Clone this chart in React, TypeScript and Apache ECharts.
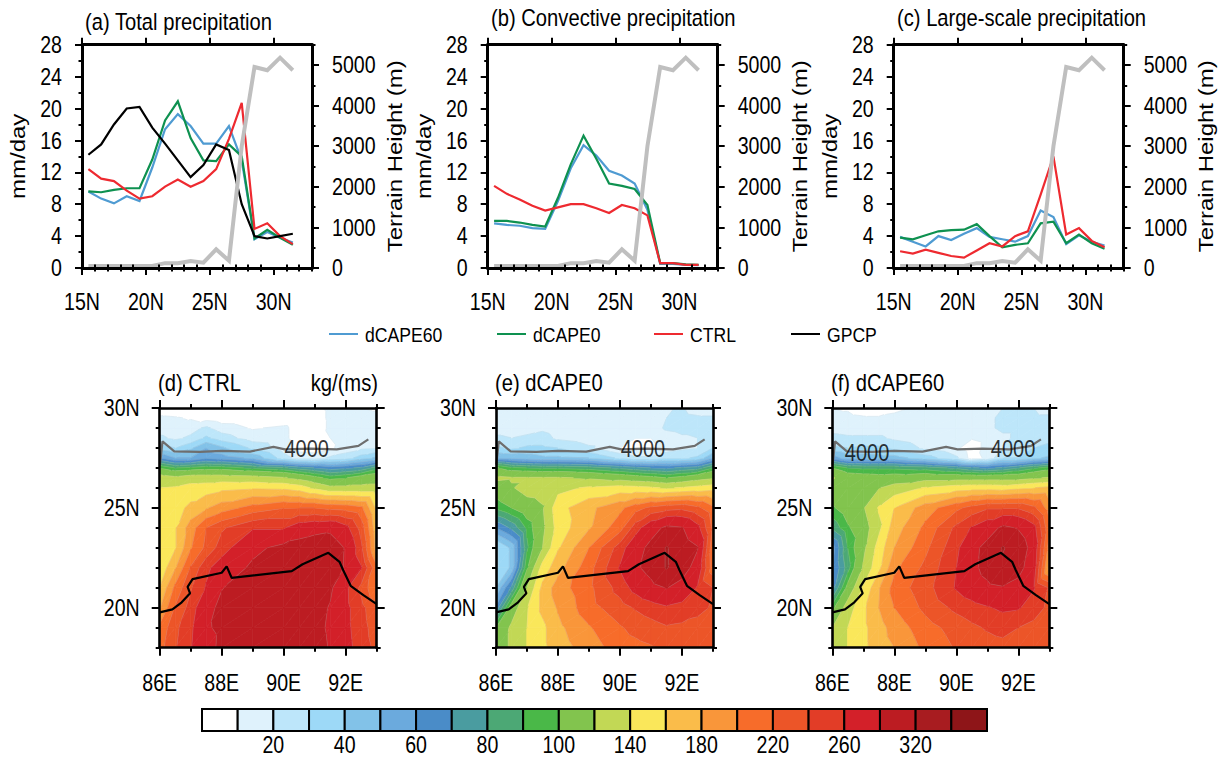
import React, { useEffect, useRef } from "react";
import * as echarts from "echarts";

const FONT = "Liberation Sans";

// ---------- line panels ----------
const latPoints = [15.5, 16.5, 17.5, 18.5, 19.5, 20.5, 21.5, 22.5, 23.5, 24.5, 25.5, 26.5, 27.5, 28.5, 29.5, 30.5, 31.5];
const terrain = [50, 50, 50, 50, 50, 50, 120, 120, 170, 130, 460, 180, 3000, 4950, 4870, 5180, 4870];

const totalBlue = [9.6, 8.7, 8.1, 9.0, 8.4, 12.6, 17.4, 19.3, 17.8, 15.6, 15.6, 17.8, 13.5, 3.6, 4.5, 3.8, 3.2];
const totalGreen = [9.6, 9.5, 9.8, 10.0, 10.0, 13.6, 18.5, 20.9, 16.3, 13.5, 13.4, 15.5, 14.0, 3.7, 4.8, 3.8, 2.9];
const totalRed = [12.4, 11.2, 10.9, 9.7, 8.7, 9.0, 10.2, 11.1, 10.2, 10.9, 12.4, 16.2, 20.7, 4.9, 5.6, 4.0, 3.0];
const totalBlack = [14.2, 15.5, 18.0, 20.0, 20.2, 17.6, 15.6, 13.5, 11.4, 12.9, 15.5, 14.8, 8.0, 4.0, 3.7, 4.0, 4.3];

const convBlue = [5.6, 5.4, 5.3, 5.0, 4.9, 8.4, 12.5, 15.4, 14.1, 12.2, 11.6, 10.6, 7.3, 0.5, 0.5, 0.4, 0.35];
const convGreen = [5.9, 5.9, 5.7, 5.4, 5.2, 8.8, 13.0, 16.6, 13.7, 10.6, 10.3, 9.9, 7.9, 0.6, 0.6, 0.45, 0.4];
const convRed = [10.3, 9.3, 8.6, 7.8, 7.2, 7.6, 8.0, 8.0, 7.5, 6.9, 7.9, 7.5, 6.6, 0.6, 0.6, 0.4, 0.4];

const largeBlue = [3.9, 3.3, 2.7, 4.0, 3.5, 4.3, 5.0, 3.9, 3.6, 3.3, 4.0, 7.2, 6.4, 3.0, 4.1, 3.3, 2.8];
const largeGreen = [3.8, 3.6, 4.1, 4.6, 4.75, 4.8, 5.5, 4.0, 2.6, 2.9, 3.1, 5.6, 5.8, 3.1, 4.2, 3.1, 2.4];
const largeRed = [2.1, 1.8, 2.3, 1.9, 1.5, 1.3, 2.2, 3.1, 2.7, 4.0, 4.6, 9.2, 14.0, 4.2, 5.0, 3.4, 2.6];

const precipTicks = [0, 4, 8, 12, 16, 20, 24, 28];
const precipMinor = [2, 6, 10, 14, 18, 22, 26];
const terrainTicks = [0, 1000, 2000, 3000, 4000, 5000];
const terrainMinor = [500, 1500, 2500, 3500, 4500, 5500];
const latTicks = [15, 20, 25, 30];
const latMinor = [16, 17, 18, 19, 21, 22, 23, 24, 26, 27, 28, 29, 31, 32, 33];

// ---------- contour panels ----------
const fieldLons = [86, 86.5, 87, 87.5, 88, 89, 90, 90.5, 91, 91.5, 92, 92.5, 93];
const fieldLats = [18, 19, 20, 21, 22, 23, 24, 25, 26, 26.5, 27, 27.5, 28, 28.5, 29, 29.5, 30];

const ctrlField = [
  [212, 238, 258, 280, 296, 305, 310, 308, 301, 288, 268, 250, 235],
  [205, 235, 255, 287, 295, 305, 312, 308, 298, 286, 266, 248, 230],
  [178, 222, 248, 282, 296, 306, 310, 308, 300, 288, 266, 246, 225],
  [160, 205, 238, 262, 289, 302, 308, 307, 305, 295, 265, 235, 200],
  [145, 178, 222, 255, 272, 295, 302, 306, 308, 306, 287, 262, 205],
  [150, 158, 198, 225, 250, 283, 298, 302, 308, 305, 288, 245, 170],
  [148, 158, 190, 220, 237, 258, 258, 275, 280, 284, 268, 232, 165],
  [146, 152, 165, 178, 190, 208, 219, 220, 220, 215, 212, 205, 155],
  [140, 142, 148, 150, 155, 158, 156, 150, 136, 125, 125, 125, 125],
  [130, 125, 130, 130, 130, 128, 122, 114, 105, 96, 100, 108, 112],
  [100, 90, 92, 95, 95, 88, 82, 75, 70, 65, 68, 72, 85],
  [60, 50, 50, 58, 55, 48, 25, 16, 15, 22, 25, 35, 42],
  [35, 30, 38, 50, 42, 28, 15, 6, 5, 8, 15, 18, 20],
  [22, 18, 22, 32, 25, 15, 12, 6, 5, 10, 14, 18, 20],
  [15, 14, 16, 22, 15, 9, 12, 6, 4, 12, 15, 15, 15],
  [12, 11, 9, 6, 4, 3, 3, 4, 5, 12, 14, 15, 14],
  [3, 3, 2, 2, 2, 2, 2, 3, 8, 12, 12, 10, 8],
];
const cape0Field = [
  [105, 124, 140, 155, 170, 190, 210, 214, 218, 224, 228, 230, 228],
  [100, 124, 140, 155, 175, 198, 218, 226, 232, 238, 236, 234, 232],
  [62, 108, 138, 165, 182, 212, 232, 242, 250, 257, 252, 245, 238],
  [40, 72, 120, 165, 190, 215, 248, 268, 282, 291, 280, 258, 240],
  [28, 42, 98, 148, 172, 212, 262, 285, 300, 322, 303, 278, 208],
  [28, 42, 88, 120, 158, 200, 250, 278, 298, 322, 305, 292, 205],
  [60, 72, 92, 115, 148, 178, 212, 250, 278, 296, 292, 268, 215],
  [92, 100, 110, 118, 152, 175, 195, 212, 225, 232, 235, 225, 205],
  [108, 118, 128, 130, 134, 143, 148, 146, 143, 138, 142, 146, 150],
  [125, 122, 122, 122, 122, 118, 112, 108, 105, 100, 105, 112, 118],
  [102, 92, 90, 88, 88, 85, 78, 74, 70, 68, 72, 75, 90],
  [50, 48, 45, 42, 42, 40, 28, 22, 22, 28, 28, 32, 50],
  [32, 28, 32, 32, 30, 22, 10, 7, 8, 14, 18, 20, 30],
  [22, 20, 22, 24, 18, 14, 12, 10, 10, 14, 18, 20, 22],
  [15, 15, 16, 18, 15, 14, 14, 14, 14, 22, 24, 24, 24],
  [13, 13, 13, 13, 13, 13, 13, 14, 16, 20, 24, 22, 22],
  [13, 13, 13, 13, 13, 13, 13, 14, 15, 19, 21, 14, 12],
];
const cape60Field = [
  [125, 140, 155, 170, 180, 205, 222, 228, 232, 234, 232, 230, 228],
  [120, 140, 155, 172, 188, 212, 228, 236, 242, 246, 240, 234, 228],
  [95, 130, 155, 180, 200, 225, 245, 252, 258, 264, 262, 250, 235],
  [65, 105, 142, 178, 208, 232, 262, 274, 284, 288, 280, 262, 238],
  [58, 85, 122, 155, 195, 225, 260, 282, 300, 315, 300, 272, 172],
  [55, 90, 115, 148, 180, 215, 255, 280, 300, 322, 308, 278, 190],
  [82, 98, 110, 135, 170, 205, 245, 262, 275, 296, 288, 268, 205],
  [98, 108, 118, 142, 160, 190, 215, 228, 238, 238, 238, 225, 190],
  [112, 116, 118, 119, 128, 142, 150, 152, 152, 150, 155, 160, 165],
  [122, 110, 108, 106, 108, 112, 112, 112, 112, 112, 112, 118, 122],
  [100, 90, 88, 88, 88, 85, 78, 72, 68, 72, 80, 88, 95],
  [55, 45, 45, 44, 44, 35, 22, 6, 12, 30, 30, 38, 42],
  [32, 30, 32, 32, 28, 18, 12, 4, 14, 20, 24, 30, 32],
  [24, 22, 22, 22, 18, 13, 12, 11, 14, 18, 22, 24, 28],
  [15, 14, 14, 14, 14, 13, 13, 13, 18, 22, 22, 22, 24],
  [12, 12, 11, 11, 12, 13, 13, 13, 18, 22, 24, 22, 22],
  [10, 9, 6, 5, 8, 12, 13, 13, 15, 20, 22, 20, 16],
];

const bandLevels = [10, 20, 30, 40, 50, 60, 70, 80, 90, 100, 120, 140, 160, 180, 200, 220, 240, 260, 290, 320, 340];
const bandColors = ["#FFFFFF", "#DFF2FC", "#BDE6FA", "#9DD9F7", "#82C2E8", "#6BAADD", "#4A8CC8", "#4A9CA0", "#4CA875", "#4AB848", "#82C44E", "#C2D855", "#FAE75A", "#FABC4A", "#F9963A", "#F76C2A", "#EC5528", "#E23D27", "#D32029", "#BC1C22", "#A81C20", "#8E1518"];
const barTickPositions = [2, 4, 6, 8, 10, 12, 14, 16, 18, 20];
const barTickLabels = ["20", "40", "60", "80", "100", "140", "180", "220", "260", "320"];

const contour4000 = [[86.01, 27.17], [86.09, 28.33], [86.47, 27.83], [87.3, 27.8], [88.0, 27.85], [88.91, 27.82], [89.67, 28.05], [90.04, 27.93], [90.85, 27.97], [91.71, 27.93], [92.41, 28.1], [92.73, 28.43]];
const coastline = [[86, 19.77], [86.41, 19.92], [86.71, 20.27], [86.98, 20.72], [86.9, 21.05], [87.06, 21.43], [88.0, 21.75], [88.16, 22.07], [88.32, 21.5], [90.26, 21.83], [90.61, 22.18], [91.44, 22.75], [91.8, 22.3], [91.92, 21.88], [92.16, 21.1], [92.57, 20.63], [93, 20.18]];
const labels4000 = [[[90.74, 27.95]], [[90.74, 27.95]], [[87.12, 27.77], [91.83, 27.93]]];

const lonTicks = [86, 88, 90, 92];
const lonMinor = [87, 89, 91, 93];
const fieldLatTicks = [20, 25, 30];
const fieldLatMinor = [18, 19, 21, 22, 23, 24, 26, 27, 28, 29];

const BLUE = "#4F9BD2";
const GREEN = "#0E9150";
const RED = "#EE2A30";
const BLACK = "#000000";
const GRAY = "#BFBFBF";

type Pt = { x: number; y: number; v: number };

function clipPoly(poly: Pt[], level: number, above: boolean): Pt[] {
  const out: Pt[] = [];
  for (let k = 0; k < poly.length; k++) {
    const a = poly[k];
    const b = poly[(k + 1) % poly.length];
    const ina = above ? a.v >= level : a.v < level;
    const inb = above ? b.v >= level : b.v < level;
    if (ina) out.push(a);
    if (ina !== inb) {
      const t = (level - a.v) / (b.v - a.v);
      out.push({ x: a.x + (b.x - a.x) * t, y: a.y + (b.y - a.y) * t, v: level });
    }
  }
  return out;
}

function triangleShapes(tri: Pt[], api: any): any[] {
  const kids: any[] = [];
  for (let b = 0; b < bandColors.length; b++) {
    let poly = tri;
    if (b > 0) poly = clipPoly(poly, bandLevels[b - 1], true);
    if (poly.length && b < bandLevels.length) poly = clipPoly(poly, bandLevels[b], false);
    if (poly.length < 3) continue;
    const points = poly.map((p) => api.coord([p.x, p.y]));
    kids.push({
      type: "polygon",
      silent: true,
      shape: { points },
      style: { fill: bandColors[b], stroke: bandColors[b], lineWidth: 0.7 },
    });
  }
  for (let l = 0; l < bandLevels.length; l++) {
    const level = bandLevels[l];
    const cross: number[][] = [];
    for (let k = 0; k < 3; k++) {
      const a = tri[k];
      const c = tri[(k + 1) % 3];
      if ((a.v < level) !== (c.v < level)) {
        const t = (level - a.v) / (c.v - a.v);
        cross.push(api.coord([a.x + (c.x - a.x) * t, a.y + (c.y - a.y) * t]));
      }
    }
    if (cross.length === 2) {
      kids.push({
        type: "line",
        silent: true,
        shape: { x1: cross[0][0], y1: cross[0][1], x2: cross[1][0], y2: cross[1][1] },
        style: { stroke: "rgba(205,205,205,0.35)", lineWidth: 0.6 },
      });
    }
  }
  return kids;
}

function fieldSeries(field: number[][], gridAxis: number) {
  const data: number[][] = [];
  for (let j = 0; j < fieldLats.length - 1; j++) {
    for (let i = 0; i < fieldLons.length - 1; i++) {
      data.push([fieldLons[i], fieldLats[j], i, j]);
    }
  }
  return {
    type: "custom",
    xAxisIndex: gridAxis,
    yAxisIndex: gridAxis,
    silent: true,
    z: 2,
    clip: true,
    data,
    renderItem: (_p: any, api: any) => {
      const i = api.value(2);
      const j = api.value(3);
      const p00 = { x: fieldLons[i], y: fieldLats[j], v: field[j][i] };
      const p10 = { x: fieldLons[i + 1], y: fieldLats[j], v: field[j][i + 1] };
      const p01 = { x: fieldLons[i], y: fieldLats[j + 1], v: field[j + 1][i] };
      const p11 = { x: fieldLons[i + 1], y: fieldLats[j + 1], v: field[j + 1][i + 1] };
      const children = [...triangleShapes([p00, p10, p11], api), ...triangleShapes([p00, p11, p01], api)];
      return { type: "group", children };
    },
  };
}

function axisPair(o: any) {
  const textStyle = { fontFamily: FONT, fontSize: 19.6, color: "#000" };
  const base = {
    type: "value",
    gridIndex: o.grid,
    position: o.position,
    min: o.min,
    max: o.max,
    z: 10,
    splitLine: { show: false },
    minorTick: { show: false },
    silent: true,
  };
  const major = {
    ...base,
    axisLine: { show: true, onZero: false, lineStyle: { color: "#000", width: o.lineW } },
    axisTick: { show: true, length: o.tick, customValues: o.majors, lineStyle: { color: "#000", width: 2 } },
    axisLabel: o.formatter
      ? { show: true, customValues: o.majors, formatter: o.formatter, margin: o.margin, ...textStyle, hideOverlap: false }
      : { show: false },
    ...(o.name
      ? {
          name: o.name,
          nameLocation: "middle",
          nameRotate: 90,
          nameGap: o.nameGap,
          nameTextStyle: { fontFamily: FONT, fontSize: 20, color: "#000" },
        }
      : {}),
  };
  const minor = {
    ...base,
    axisLine: { show: false },
    axisTick: { show: true, length: o.tick / 2, customValues: o.minors, lineStyle: { color: "#000", width: 2 } },
    axisLabel: { show: false },
  };
  return [major, minor];
}

const lineItem = (name: string, values: number[], axis: number, yAxis: number, color: string, width: number, z: number) => ({
  type: "line",
  name,
  xAxisIndex: axis,
  yAxisIndex: yAxis,
  data: latPoints.map((x, k) => [x, values[k]]),
  showSymbol: false,
  symbol: "none",
  z,
  silent: true,
  lineStyle: { color, width, join: "miter" },
  itemStyle: { color },
});

function buildOption() {
  const panels = [
    { left: 82, lines: [["dCAPE60", totalBlue, BLUE], ["dCAPE0", totalGreen, GREEN], ["CTRL", totalRed, RED], ["GPCP", totalBlack, BLACK]] },
    { left: 487.7, lines: [["dCAPE60", convBlue, BLUE], ["dCAPE0", convGreen, GREEN], ["CTRL", convRed, RED]] },
    { left: 893.7, lines: [["dCAPE60", largeBlue, BLUE], ["dCAPE0", largeGreen, GREEN], ["CTRL", largeRed, RED]] },
  ];
  const maps = [
    { left: 159.7, field: ctrlField },
    { left: 496, field: cape0Field },
    { left: 832.3, field: cape60Field },
  ];
  const grid: any[] = [];
  const xAxis: any[] = [];
  const yAxis: any[] = [];
  const series: any[] = [];

  panels.forEach((p, g) => {
    grid.push({ left: p.left, top: 44.7, width: 230, height: 223.3 });
    const xc = { grid: g, min: 15, max: 33, majors: latTicks, minors: latMinor, lineW: 3, tick: 7 };
    xAxis.push(...axisPair({ ...xc, position: "bottom", formatter: (v: number) => `${v}N`, margin: 24 }));
    xAxis.push(...axisPair({ ...xc, position: "top" }));
    yAxis.push(
      ...axisPair({ grid: g, min: 0, max: 28, majors: precipTicks, minors: precipMinor, lineW: 3, tick: 7, position: "left", formatter: (v: number) => `${v}`, margin: 20, name: "mm/day", nameGap: 54 }),
    );
    yAxis.push(
      ...axisPair({ grid: g, min: 0, max: 5500, majors: terrainTicks, minors: terrainMinor, lineW: 3, tick: 7, position: "right", formatter: (v: number) => `${v}`, margin: 20, name: "Terrain Height (m)", nameGap: 73 }),
    );
    const ax = 4 * g;
    p.lines.forEach((l: any, k) => series.push(lineItem(l[0], l[1], ax, ax, l[2], 2.2, 4 + k)));
    series.push(lineItem("Terrain", terrain, ax, ax + 2, GRAY, 4, 9));
  });

  maps.forEach((m, idx) => {
    const g = idx + 3;
    grid.push({ left: m.left, top: 408, width: 217, height: 239.7 });
    const xc = { grid: g, min: 86, max: 93, majors: lonTicks, minors: lonMinor, lineW: 2.6, tick: 8 };
    xAxis.push(...axisPair({ ...xc, position: "bottom", formatter: (v: number) => `${v}E`, margin: 25 }));
    xAxis.push(...axisPair({ ...xc, position: "top" }));
    const yc = { grid: g, min: 18, max: 30, majors: fieldLatTicks, minors: fieldLatMinor, lineW: 2.6, tick: 8 };
    yAxis.push(...axisPair({ ...yc, position: "left", formatter: (v: number) => `${v}N`, margin: 20 }));
    yAxis.push(...axisPair({ ...yc, position: "right" }));
    const ax = 4 * g;
    series.push(fieldSeries(m.field, ax));
    series.push({ type: "line", xAxisIndex: ax, yAxisIndex: ax, data: contour4000, symbol: "none", z: 4, silent: true, lineStyle: { color: "#6E6E6E", width: 2.2 } });
    series.push({ type: "line", xAxisIndex: ax, yAxisIndex: ax, data: coastline, symbol: "none", z: 5, silent: true, lineStyle: { color: "#000", width: 2.2 } });
    series.push({
      type: "scatter",
      xAxisIndex: ax,
      yAxisIndex: ax,
      data: labels4000[idx],
      symbolSize: 1,
      z: 6,
      silent: true,
      itemStyle: { color: "transparent" },
      label: { show: true, position: "inside", formatter: "4000", fontFamily: FONT, fontSize: 20, color: "#000" },
    });
  });

  // colour bar
  const barIdx = 6;
  grid.push({ left: 202, top: 709, width: 785, height: 22 });
  xAxis.push({
    type: "value",
    gridIndex: barIdx,
    min: 0,
    max: bandColors.length,
    position: "bottom",
    splitLine: { show: false },
    axisLine: { show: false },
    axisTick: { show: false },
    axisLabel: {
      customValues: barTickPositions,
      formatter: (v: number) => barTickLabels[barTickPositions.indexOf(v)],
      margin: 4,
      fontFamily: FONT,
      fontSize: 19.6,
      color: "#000",
    },
  });
  yAxis.push({ type: "value", gridIndex: barIdx, min: 0, max: 1, show: false });
  const barAxis = 4 * 6;
  series.push({
    type: "custom",
    xAxisIndex: barAxis,
    yAxisIndex: barAxis,
    silent: true,
    data: bandColors.map((_c, k) => [k, 0, k + 1, 1]),
    renderItem: (_p: any, api: any) => {
      const k = api.value(0);
      const a = api.coord([k, 1]);
      const b = api.coord([k + 1, 0]);
      return {
        type: "rect",
        shape: { x: a[0], y: a[1], width: b[0] - a[0], height: b[1] - a[1] },
        style: { fill: bandColors[k], stroke: "#000", lineWidth: 2 },
      };
    },
  });

  const titleStyle = { fontFamily: FONT, fontSize: 20.2, fontWeight: "normal" as const, color: "#000" };
  const title = [
    { text: "(a) Total precipitation", left: 85, top: 12, padding: 0, textStyle: titleStyle },
    { text: "(b) Convective precipitation", left: 491, top: 8, padding: 0, textStyle: titleStyle },
    { text: "(c) Large-scale precipitation", left: 897, top: 8, padding: 0, textStyle: titleStyle },
    { text: "(d) CTRL", left: 158, top: 373, padding: 0, textStyle: titleStyle },
    { text: "kg/(ms)", right: 849, top: 373, padding: 0, textStyle: titleStyle },
    { text: "(e) dCAPE0", left: 495, top: 373, padding: 0, textStyle: titleStyle },
    { text: "(f) dCAPE60", left: 831, top: 373, padding: 0, textStyle: titleStyle },
  ];

  const legendItem = (name: string, left: number) => ({
    data: [{ name, icon: "rect" }],
    left,
    top: 325,
    padding: 0,
    itemWidth: 29,
    itemHeight: 2,
    itemGap: 0,
    selectedMode: false,
    textStyle: { fontFamily: FONT, fontSize: 17.6, color: "#000", padding: [0, 0, 0, 2] },
  });
  const legend = [legendItem("dCAPE60", 329), legendItem("dCAPE0", 497), legendItem("CTRL", 654), legendItem("GPCP", 791)];

  return { animation: false, backgroundColor: "#fff", title, legend, grid, xAxis, yAxis, series };
}

// The reference figure is stretched vertically by about 1.2; give its real texts the same stretch.
const TEXT_STRETCH = 1.2;
function stretchTexts(root: HTMLElement) {
  root.querySelectorAll("svg text").forEach((node) => {
    const el = node as SVGTextElement;
    if (el.getAttribute("data-stretched")) return;
    const box = el.getBBox();
    if (!box.width) return;
    const m = el.getCTM();
    const rotated = m ? Math.abs(m.b) > 0.5 : false;
    const cx = box.x + box.width / 2;
    const cy = box.y + box.height / 2;
    const sx = rotated ? TEXT_STRETCH : 1;
    const sy = rotated ? 1 : TEXT_STRETCH;
    const base = el.getAttribute("transform") || "";
    el.setAttribute("transform", `${base} translate(${cx} ${cy}) scale(${sx} ${sy}) translate(${-cx} ${-cy})`);
    el.setAttribute("data-stretched", "1");
  });
}

export default function App() {
  const ref = useRef<HTMLDivElement>(null);
  useEffect(() => {
    document.body.style.margin = "0";
    const chart = echarts.init(ref.current!, undefined, { renderer: "svg" });
    chart.setOption(buildOption() as any);
    stretchTexts(ref.current!);
    chart.on("finished", () => ref.current && stretchTexts(ref.current));
    return () => chart.dispose();
  }, []);
  return <div ref={ref} style={{ width: 1227, height: 760 }} />;
}
